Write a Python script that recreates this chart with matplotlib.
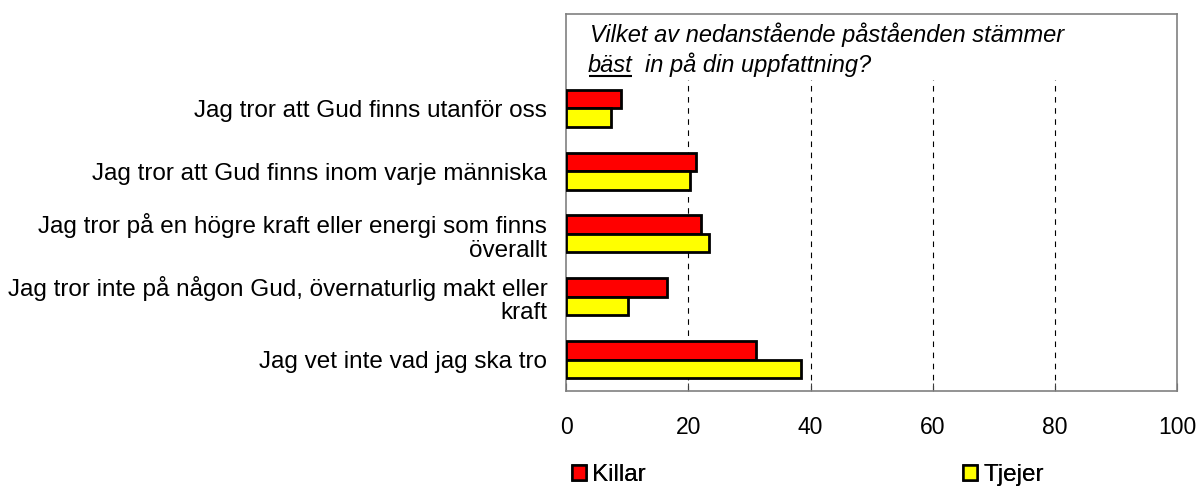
import matplotlib
matplotlib.use("Agg")
import matplotlib.pyplot as plt
import matplotlib.patches as mpatches
import numpy as np

plt.rcParams["font.family"] = ["Liberation Sans", "DejaVu Sans"]

categories = [
    "Jag tror att Gud finns utanför oss",
    "Jag tror att Gud finns inom varje människa",
    "Jag tror på en högre kraft eller energi som finns\növerallt",
    "Jag tror inte på någon Gud, övernaturlig makt eller\nkraft",
    "Jag vet inte vad jag ska tro",
]
killar = [9.0, 21.3, 22.1, 16.5, 31.0]
tjejer = [7.3, 20.3, 23.4, 10.2, 38.5]
xticks = [0, 20, 40, 60, 80, 100]

RED = "#FF0000"
YELLOW = "#FFFF00"

fig = plt.figure(figsize=(12.01, 4.86), dpi=100)
ax = fig.add_axes([0.4713, 0.1955, 0.5091, 0.7757])

y = np.arange(len(categories))
h = 0.295
ax.barh(y - h / 2, killar, height=h, color=RED, edgecolor="black",
        linewidth=2.0, zorder=3)
ax.barh(y + h / 2, tjejer, height=h, color=YELLOW, edgecolor="black",
        linewidth=2.0, zorder=3)

ax.set_xlim(0, 100)
ax.set_ylim(4.5, -1.5)
ax.set_xticks(xticks)
ax.set_yticks(y)
ax.set_yticklabels(categories, fontsize=17.5, linespacing=1.1)
ax.tick_params(axis="y", length=0, pad=13.5)
ax.tick_params(axis="x", direction="in", length=6, pad=18, labelsize=16.5,
               color="#404040")
for s in ax.spines.values():
    s.set_color("#808080")
    s.set_linewidth(1.2)

for v in xticks[1:-1]:
    ax.axvline(v, color="black", linestyle=(0, (5, 5)), linewidth=0.8, zorder=1)

# white block that hides the gridlines behind the question text
ax.add_patch(plt.Rectangle((0.002, 0.825), 0.996, 0.172, transform=ax.transAxes,
                           facecolor="white", edgecolor="none", zorder=2))

# question text, "bäst" underlined
ax.text(0.039, 0.926, "Vilket av nedanstående påståenden stämmer",
        transform=ax.transAxes, fontsize=17, style="italic", va="baseline", zorder=4)
t_best = ax.text(0.036, 0.846, "bäst", transform=ax.transAxes, fontsize=17,
                 style="italic", va="baseline", zorder=4)
fig.canvas.draw()
bb = t_best.get_window_extent()
inv = ax.transAxes.inverted()
x0, _ = inv.transform((bb.x0, bb.y0))
x1, _ = inv.transform((bb.x1, bb.y0))
ax.text(x1 + 12 / 611, 0.846, "in på din uppfattning?", transform=ax.transAxes,
        fontsize=17, style="italic", va="baseline", zorder=4)
uy = 0.846 - 4 / 377
ax.plot([x0 + 1 / 611, x1 - 1 / 611], [uy, uy], transform=ax.transAxes,
        color="black", linewidth=1.5, solid_capstyle="butt", zorder=4)

# legend, one entry placed under each side like the original
for label, col, xpos in [("Killar", RED, 572 / 1201), ("Tjejer", YELLOW, 963 / 1201)]:
    patch = mpatches.Patch(facecolor=col, edgecolor="black", linewidth=1.8,
                           label=label)
    leg = fig.legend(handles=[patch], loc="center left",
                     bbox_to_anchor=(xpos, 11 / 486), frameon=False,
                     fontsize=17.5, handlelength=0.58, handleheight=0.58,
                     handletextpad=0.25, borderpad=0, borderaxespad=0)
    fig.add_artist(leg)

fig.savefig("out.png", dpi=100)
